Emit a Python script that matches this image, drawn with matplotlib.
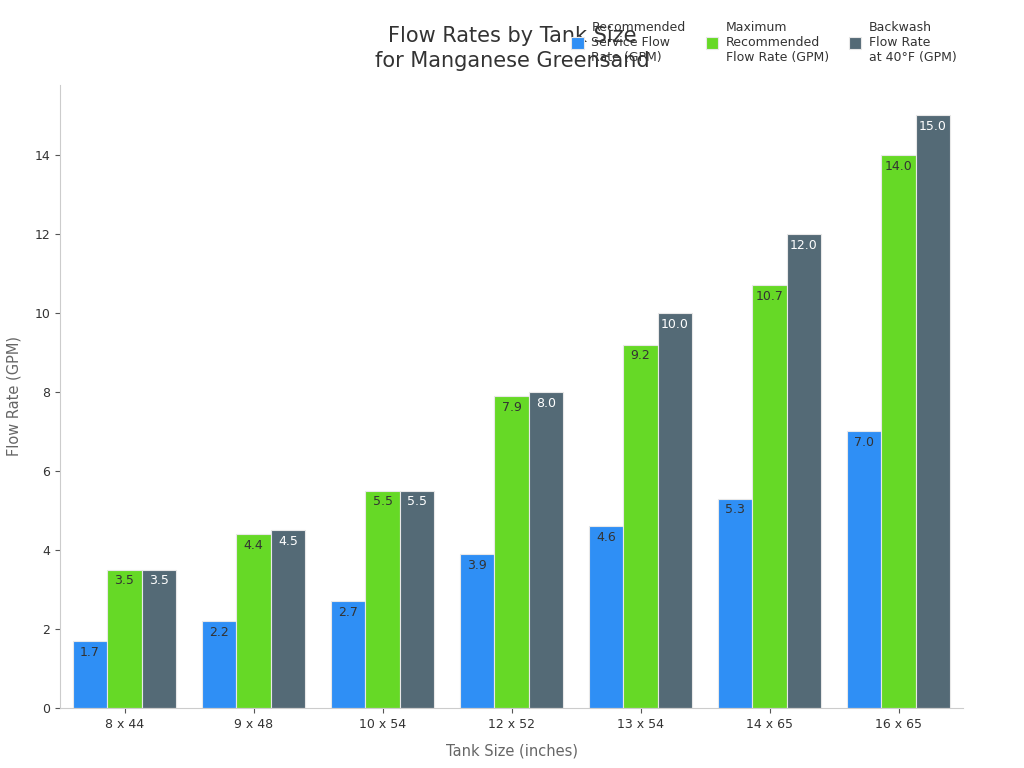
import numpy as np
import matplotlib.pyplot as plt

tanks = ['8 x 44', '9 x 48', '10 x 54', '12 x 52', '13 x 54', '14 x 65', '16 x 65']
service = [1.7, 2.2, 2.7, 3.9, 4.6, 5.3, 7.0]
maximum = [3.5, 4.4, 5.5, 7.9, 9.2, 10.7, 14.0]
backwash = [3.5, 4.5, 5.5, 8.0, 10.0, 12.0, 15.0]
series_names = ['Recommended\nService Flow\nRate (GPM)',
                'Maximum\nRecommended\nFlow Rate (GPM)',
                'Backwash\nFlow Rate\nat 40°F (GPM)']
colors = ['#2F8FF5', '#66D926', '#546A76']
text_colors = ['#333333', '#333333', '#FFFFFF']

fig = plt.figure(figsize=(10.24, 7.68), dpi=100)
ax = fig.add_axes([60/1024, 60/768, 903/1024, 623/768])

x = np.arange(len(tanks))
w = 0.8 / 3
for i, vals in enumerate([service, maximum, backwash]):
    bars = ax.bar(x + (i - 1) * w, vals, w, color=colors[i], edgecolor='#E8E8E8',
                  linewidth=0.8, label=series_names[i])
    for b, v in zip(bars, vals):
        ax.text(b.get_x() + b.get_width() / 2, v - 0.12, f'{v:.1f}', ha='center', va='top',
                fontsize=9, color=text_colors[i])

ax.set_xlim(-0.5, 6.5)
ax.set_ylim(0, 15.77)
ax.set_xticks(x)
ax.set_xticklabels(tanks)
ax.set_yticks([0, 2, 4, 6, 8, 10, 12, 14])
ax.tick_params(labelsize=9, colors='#333333')
ax.tick_params(axis='both', color='#555555')
for s in ['top', 'right']:
    ax.spines[s].set_visible(False)
for s in ['left', 'bottom']:
    ax.spines[s].set_color('#CCCCCC')
ax.set_xlabel('Tank Size (inches)', fontsize=10.5, color='#666666', labelpad=9)
ax.set_ylabel('Flow Rate (GPM)', fontsize=10.5, color='#666666', labelpad=9)

fig.text(0.5, 0.937, 'Flow Rates by Tank Size\nfor Manganese Greensand', ha='center', va='center',
         fontsize=15, color='#333333', linespacing=1.35)
leg = fig.legend(loc='center', bbox_to_anchor=(0.746, 0.945), ncol=3, frameon=False,
                 fontsize=9, handlelength=1.0, handleheight=1.0, columnspacing=1.6,
                 handletextpad=0.6)
for t in leg.get_texts():
    t.set_color('#333333')

fig.savefig('out.png', dpi=100)
